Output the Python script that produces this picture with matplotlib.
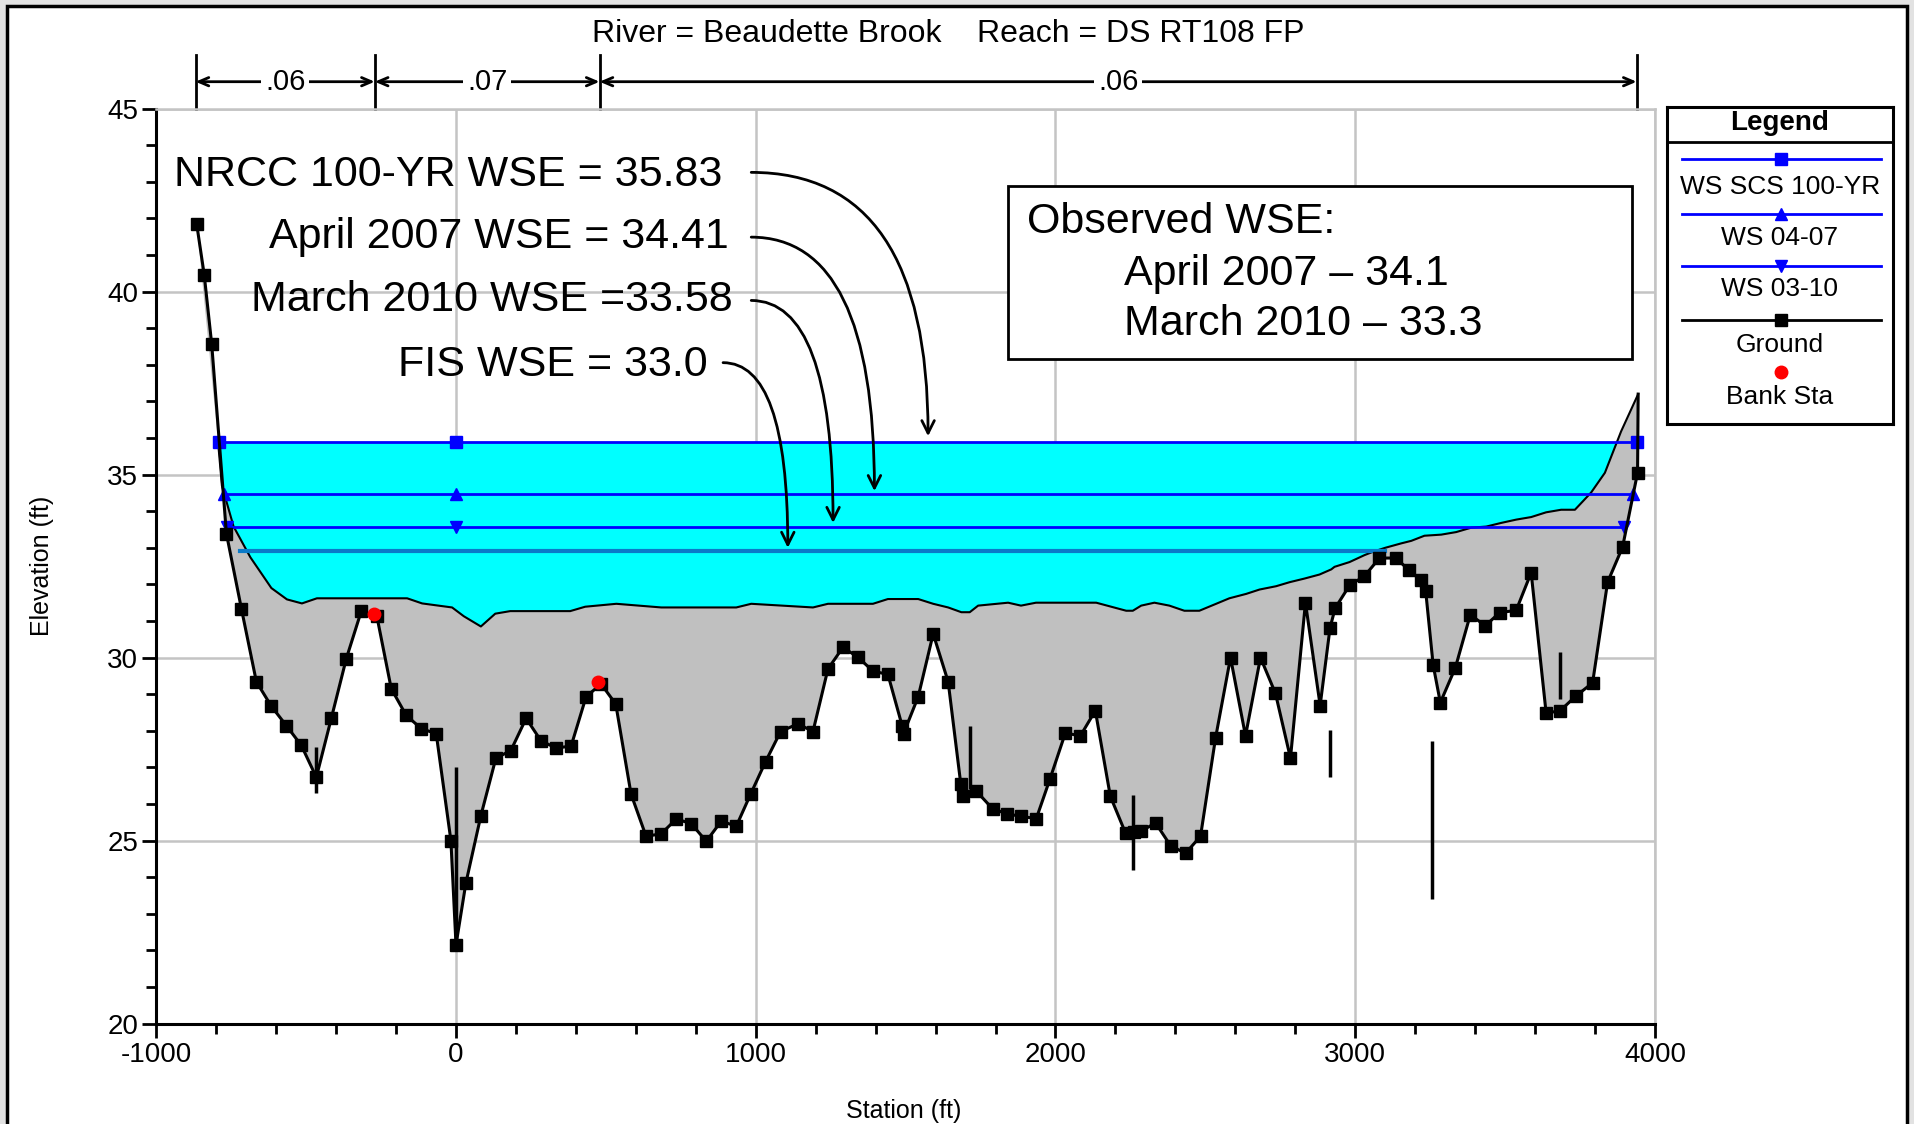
import matplotlib.pyplot as plt
import matplotlib.patches as mpatches
from matplotlib.ticker import MultipleLocator
import numpy as np

# ground profile (station ft, elevation ft)
ground_sta = [-865, -840, -815, -766, -716, -666, -616, -566, -516, -466, -416, -366, -316, -264,
              -216, -166, -116, -66, -17, 0, 33, 83, 133, 183, 234, 284, 334, 384, 434, 484, 533,
              584, 634, 684, 735, 785, 835, 885, 935, 983, 1033, 1083, 1141, 1191, 1241, 1291,
              1341, 1391, 1441, 1489, 1493, 1542, 1592, 1642, 1684, 1692, 1736, 1790, 1838, 1886,
              1936, 1982, 2033, 2083, 2133, 2183, 2234, 2262, 2284, 2334, 2384, 2434, 2484, 2534,
              2584, 2634, 2684, 2734, 2784, 2834, 2883, 2916, 2933, 2981, 3031, 3081, 3136, 3179,
              3220, 3235, 3260, 3284, 3334, 3384, 3434, 3482, 3537, 3587, 3637, 3684, 3735, 3792,
              3842, 3892, 3942, 3944]
ground_elev = [41.84, 40.46, 38.56, 33.39, 31.34, 29.34, 28.67, 28.14, 27.60, 26.73, 28.34, 29.97,
               31.27, 31.13, 29.15, 28.42, 28.06, 27.92, 25.0, 22.15, 23.84, 25.68, 27.25, 27.46,
               28.34, 27.72, 27.53, 27.58, 28.93, 29.28, 28.73, 26.27, 25.12, 25.18, 25.59, 25.46,
               24.98, 25.53, 25.39, 26.27, 27.16, 27.98, 28.19, 27.98, 29.69, 30.28, 30.01, 29.63,
               29.54, 28.12, 27.92, 28.93, 30.65, 29.34, 26.55, 26.23, 26.35, 25.87, 25.73, 25.66,
               25.60, 26.69, 27.94, 27.86, 28.55, 26.21, 25.20, 25.22, 25.25, 25.48, 24.86, 24.65,
               25.12, 27.80, 30.0, 27.86, 30.0, 29.02, 27.25, 31.50, 28.69, 30.81, 31.35, 31.97,
               32.23, 32.72, 32.72, 32.39, 32.11, 31.83, 29.80, 28.77, 29.72, 31.17, 30.87, 31.23,
               31.29, 32.32, 28.48, 28.55, 28.94, 29.31, 32.06, 33.02, 35.05, 37.2]

# upper (filled) ground surface
upper_sta = [-795, -781, -742, -686, -616, -564, -514, -464, -163, -113, -13, 26, 83, 131, 181, 381,
             431, 535, 685, 935, 985, 1191, 1241, 1391, 1441, 1542, 1592, 1642, 1686, 1714, 1742,
             1842, 1885, 1935, 2136, 2236, 2258, 2286, 2330, 2380, 2430, 2480, 2536, 2580, 2636,
             2681, 2736, 2781, 2831, 2881, 2920, 2931, 2981, 3031, 3059, 3100, 3153, 3187, 3231,
             3287, 3337, 3387, 3437, 3487, 3537, 3587, 3637, 3687, 3733, 3787, 3833, 3887, 3944]
upper_elev = [36.0, 34.7, 33.58, 32.74, 31.9, 31.59, 31.48, 31.62, 31.62, 31.48, 31.37, 31.13, 30.85,
              31.2, 31.27, 31.27, 31.39, 31.47, 31.37, 31.37, 31.47, 31.37, 31.47, 31.47, 31.6, 31.6,
              31.47, 31.37, 31.24, 31.24, 31.42, 31.5, 31.42, 31.5, 31.5, 31.28, 31.28, 31.42, 31.5,
              31.42, 31.28, 31.28, 31.47, 31.62, 31.74, 31.86, 31.95, 32.06, 32.16, 32.27, 32.41,
              32.48, 32.61, 32.8, 32.89, 33.0, 33.12, 33.19, 33.33, 33.36, 33.43, 33.55, 33.58, 33.68,
              33.77, 33.84, 33.97, 34.04, 34.04, 34.51, 35.05, 36.18, 37.2]

# water surfaces
ws100_sta, ws100_elev = [-791, 0, 3940], [35.9, 35.9, 35.9]
ws0407_sta, ws0407_elev = [-775, 0, 3926], [34.48, 34.48, 34.48]
ws0310_sta, ws0310_elev = [-764, 0, 3897], [33.58, 33.58, 33.58]
fis_sta, fis_elev = [-719, 3100], [32.9, 32.9]

bank_sta = [-272, 475]
bank_elev = [31.2, 29.34]

# ineffective / blocked markers: station, bottom, top
ineff_sta = [-466, 0, 1716, 2258, 2916, 3257, 3684]
ineff_lo = [26.3, 22.15, 26.41, 24.2, 26.74, 23.39, 28.87]
ineff_hi = [27.55, 27.0, 28.12, 26.24, 28.03, 27.73, 30.15]

# manning's n breaks
n_breaks = [-869, -271, 479, 3939]
n_values = ['.06', '.07', '.06']

# annotations
note_text = ['NRCC 100-YR WSE = 35.83', 'April 2007 WSE = 34.41',
             'March 2010 WSE =33.58', 'FIS WSE = 33.0']
note_x = [890, 910, 923, 840]
note_y = [43.19, 41.49, 39.77, 37.99]
arrow_start = [(985, 43.26), (985, 41.49), (985, 39.76), (891, 38.06)]
arrow_end = [(1575, 36.05), (1396, 34.55), (1258, 33.68), (1107, 33.0)]

narrow = ['Liberation Sans Narrow', 'Liberation Sans', 'DejaVu Sans']
plt.rcParams['font.family'] = ['Liberation Sans', 'DejaVu Sans']
plt.rcParams['axes.unicode_minus'] = False

fig = plt.figure(figsize=(19.15, 11.24), dpi=100)
fig.set_facecolor('#e2e2e2')
fig.patches.append(mpatches.Rectangle((0.0037, -0.02), 0.9922, 1.0147, transform=fig.transFigure,
                                      facecolor='white', edgecolor='black', linewidth=2.5,
                                      zorder=-10))

ax = fig.add_axes([0.0816, 0.0894, 0.7826, 0.8139])
ax.set_facecolor('white')
ax.set_xlim(-1000, 4000)
ax.set_ylim(20, 45)

# fills
ax.fill_between(upper_sta, upper_elev, 35.9, where=np.array(upper_elev) <= 35.9,
                interpolate=True, color='#00ffff', lw=0, zorder=2)
poly_x = upper_sta + ground_sta[::-1]
poly_y = upper_elev + ground_elev[::-1]
ax.fill(poly_x, poly_y, color='#c0c0c0', lw=0, zorder=3)
ax.plot(upper_sta, upper_elev, color='black', lw=1.5, zorder=4)

ax.plot(fis_sta, fis_elev, color='#0a7ac8', lw=3, zorder=5)
ax.plot(ws100_sta, ws100_elev, color='#0000ff', lw=2, marker='s', ms=9, zorder=6)
ax.plot(ws0407_sta, ws0407_elev, color='#0000ff', lw=2, marker='^', ms=9, zorder=6)
ax.plot(ws0310_sta, ws0310_elev, color='#0000ff', lw=2, marker='v', ms=9, zorder=6)

ax.plot(ground_sta, ground_elev, color='black', lw=2.2, marker='s', ms=8,
        markevery=list(range(len(ground_sta) - 1)), zorder=7)
ax.vlines(ineff_sta, ineff_lo, ineff_hi, color='black', lw=2.5, zorder=7)
ax.plot(bank_sta, bank_elev, 'o', color='#ff0000', ms=9, zorder=8)

# grid, ticks
ax.xaxis.set_major_locator(MultipleLocator(1000))
ax.xaxis.set_minor_locator(MultipleLocator(200))
ax.yaxis.set_major_locator(MultipleLocator(5))
ax.yaxis.set_minor_locator(MultipleLocator(1))
ax.grid(True, which='major', color='#c4c4c4', lw=1.8, zorder=1)
ax.set_axisbelow(True)
for s in ['top', 'right']:
    ax.spines[s].set_color('#c4c4c4')
    ax.spines[s].set_linewidth(1.8)
for s in ['left', 'bottom']:
    ax.spines[s].set_linewidth(2.2)
ax.tick_params(which='major', direction='out', length=10, width=2, labelsize=20, pad=3)
ax.tick_params(which='minor', direction='out', length=7, width=2)
ax.set_xlabel('Station (ft)', fontsize=18)
ax.set_ylabel('Elevation (ft)', fontsize=18)
ax.xaxis.set_label_coords(0.499, -0.082)
ax.yaxis.set_label_coords(-0.068, 0.5)

# manning's n bar above the plot
xt = ax.get_xaxis_transform()
for b in n_breaks:
    ax.plot([b, b], [1.0, 1.0587], color='black', lw=2, transform=xt, clip_on=False)
for i, val in enumerate(n_values):
    ax.annotate('', xy=(n_breaks[i], 1.0295), xytext=(n_breaks[i + 1], 1.0295), xycoords=xt,
                textcoords=xt, arrowprops=dict(arrowstyle='<->,head_length=0.7,head_width=0.3',
                                               color='black', lw=2, shrinkA=0, shrinkB=0))
    ax.text((n_breaks[i] + n_breaks[i + 1]) / 2, 1.0295, val, transform=xt, ha='center',
            va='center', fontsize=21, family=narrow,
            bbox=dict(facecolor='white', edgecolor='none', pad=3))

fig.text(0.495, 0.970, 'River = Beaudette Brook    Reach = DS RT108 FP', ha='center', va='center',
         fontsize=23, family=narrow)

# WSE notes with curved arrows
for t, x, y, a0, a1 in zip(note_text, note_x, note_y, arrow_start, arrow_end):
    ax.text(x, y, t, ha='right', va='center', fontsize=31, zorder=10)
    ax.annotate('', xy=a1, xytext=a0, zorder=10,
                arrowprops=dict(arrowstyle='->,head_length=0.9,head_width=0.45', color='black',
                                lw=2, shrinkA=0, shrinkB=0,
                                connectionstyle='angle3,angleA=0,angleB=90'))

ax.add_patch(mpatches.Rectangle((1840, 38.16), 2082, 4.74, facecolor='white', edgecolor='black',
                                lw=2, zorder=9))
ax.text(1905, 41.9, 'Observed WSE:', fontsize=31, family=narrow, va='center', zorder=10)
ax.text(2228, 40.48, 'April 2007 \u2013 34.1', fontsize=31, family=narrow, va='center', zorder=10)
ax.text(2228, 39.12, 'March 2010 \u2013 33.3', fontsize=31, family=narrow, va='center', zorder=10)

# legend box
lg = fig.add_axes([0.8705, 0.6228, 0.118, 0.2816])
lg.set_xlim(0, 1)
lg.set_ylim(0, 1)
lg.set_xticks([])
lg.set_yticks([])
for s in lg.spines.values():
    s.set_linewidth(2.2)
lg.axhline(0.891, color='black', lw=2)
lg.text(0.5, 0.950, 'Legend', ha='center', va='center', fontsize=20, fontweight='bold')
entries = [('WS SCS 100-YR', '#0000ff', 's', '-', 0.838, 0.749),
           ('WS 04-07', '#0000ff', '^', '-', 0.664, 0.587),
           ('WS 03-10', '#0000ff', 'v', '-', 0.498, 0.425),
           ('Ground', 'black', 's', '-', 0.329, 0.248),
           ('Bank Sta', '#ff0000', 'o', 'none', 0.163, 0.086)]
for name, c, m, ls, yl, yt in entries:
    lg.plot([0.065, 0.946], [yl, yl], color=c, ls=ls, lw=2)
    lg.plot([0.505], [yl], color=c, marker=m, ms=9)
    lg.text(0.5, yt, name, ha='center', va='center', fontsize=19, family=narrow)

fig.savefig('out.png', dpi=100, facecolor=fig.get_facecolor())
